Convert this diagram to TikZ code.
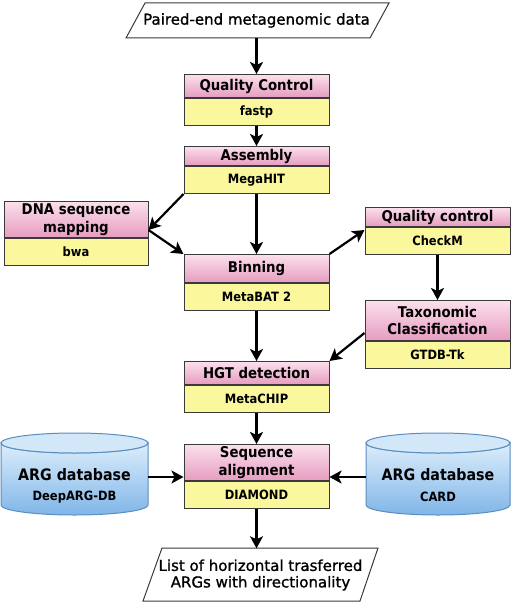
\documentclass[tikz,border=0pt]{standalone}
\usepackage{fontspec}
\usetikzlibrary{arrows.meta,calc}
\newfontfamily\dvc[FakeStretch=0.9]{DejaVu Sans}
\newfontfamily\dvr[FakeBold=1.2]{DejaVu Sans}
\definecolor{bord}{HTML}{3A3A3A}
\definecolor{pinkT}{HTML}{FBE0EC}
\definecolor{pinkB}{HTML}{E69CC0}
\definecolor{yel}{HTML}{FAF79C}
\definecolor{cylT}{HTML}{DCEEFB}
\definecolor{cylB}{HTML}{80B5E8}
\definecolor{cylTop}{HTML}{D2E7F8}
\definecolor{cylD}{HTML}{5A8DC0}
\begin{document}
\begin{tikzpicture}[x=1pt,y=-1pt,
  hdr/.style={draw=bord, line width=1pt, top color=pinkT, bottom color=pinkB,
    minimum width=145pt, inner sep=0pt, align=center, anchor=north,
    font=\dvc\bfseries\fontsize{14.8}{17.5}\selectfont},
  subbox/.style={draw=bord, line width=1pt, fill=yel, minimum width=145pt,
    minimum height=27pt, inner sep=0pt, anchor=north,
    font=\dvc\bfseries\fontsize{12.8}{15}\selectfont},
  arr/.style={line width=2.2pt, -{Stealth[length=12pt,width=13pt,inset=3pt]}},
  io/.style={draw=bord, line width=1pt, fill=white},
  iotext/.style={inner sep=0pt, align=center, font=\dvr\fontsize{15}{16.5}\selectfont},
  cyl/.style={draw=cylD, line width=1pt, top color=cylT, bottom color=cylB},
  dbtext/.style={inner sep=0pt, minimum width=147pt, minimum height=82pt}
]
\useasboundingbox (0,0) rectangle (512,604);

% input parallelogram
\draw[io] (145,3) -- (389,3) -- (370,38) -- (126,38) -- cycle;
\node[iotext, minimum height=35pt] (input) at (256.5,20.5) {Paired-end metagenomic data};

% main column
\node[hdr, minimum height=23pt] (qc) at (256.5,74) {Quality Control};
\node[subbox] (qcs) at (qc.south) {fastp};
\node[hdr, minimum height=19pt] (asm) at (256.5,146) {Assembly};
\node[subbox] (asms) at (asm.south) {MegaHIT};
\node[hdr, minimum height=28pt] (bin) at (256.5,254) {Binning};
\node[subbox] (bins) at (bin.south) {MetaBAT 2};
\node[hdr, minimum height=23pt] (hgt) at (256.5,361) {HGT detection};
\node[subbox] (hgts) at (hgt.south) {MetaCHIP};
\node[hdr, minimum height=36pt] (seq) at (256.5,444) {Sequence\\alignment};
\node[subbox] (seqs) at (seq.south) {DIAMOND};

% left
\node[hdr, minimum height=36pt, minimum width=144pt] (dna) at (76,201) {DNA sequence\\mapping};
\node[subbox, minimum width=144pt] (dnas) at (dna.south) {bwa};
\coordinate (dnaR) at ($(dna.south east)+(0,-8)$);

% right
\node[hdr, minimum height=19pt] (cm) at (437.5,207) {Quality control};
\node[subbox] (cms) at (cm.south) {CheckM};
\node[hdr, minimum height=40pt] (tax) at (437.5,300) {Taxonomic\\Classification};
\node[subbox] (taxs) at (tax.south) {GTDB-Tk};

% cylinders
\shade[cyl] (1,443) -- (1,505) arc[start angle=180, end angle=0, x radius=73.5, y radius=10]
  -- (148,443) arc[start angle=0, end angle=180, x radius=73.5, y radius=10] -- cycle;
\draw[draw=cylD, line width=1pt, fill=cylTop] (74.5,443) ellipse[x radius=73.5, y radius=10];
\node[dbtext] (db1) at (74.5,477) {};
\node[font=\dvc\bfseries\fontsize{15.8}{18}\selectfont, inner sep=0pt] (db1a) at (74.5,475) {ARG database};
\node[font=\dvc\bfseries\fontsize{12.8}{15}\selectfont, inner sep=0pt] (db1b) at (74.5,497) {DeepARG-DB};

\shade[cyl] (366,443) -- (366,505) arc[start angle=180, end angle=0, x radius=72, y radius=10]
  -- (510,443) arc[start angle=0, end angle=180, x radius=72, y radius=10] -- cycle;
\draw[draw=cylD, line width=1pt, fill=cylTop] (438,443) ellipse[x radius=72, y radius=10];
\node[dbtext, minimum width=144pt] (db2) at (438,477) {};
\node[font=\dvc\bfseries\fontsize{15.8}{18}\selectfont, inner sep=0pt] (db2a) at (438,475) {ARG database};
\node[font=\dvc\bfseries\fontsize{12.8}{15}\selectfont, inner sep=0pt] (db2b) at (438,497) {CARD};

% output parallelogram
\draw[io] (162,548) -- (378,548) -- (360,601) -- (143,601) -- cycle;
\node[iotext, minimum height=53pt] (output) at (260.5,575) {List of horizontal trasferred\\ARGs with directionality};

% connectors
\draw[arr] (input.south) -- (qc.north);
\draw[arr] (qcs.south) -- (asm.north);
\draw[arr] (asms.south) -- (bin.north);
\draw[arr] (asms.south west) -- (dnaR);
\draw[arr] (dnaR) -- (bin.north west);
\draw[arr] (bin.north east) -- ($(cms.north west)+(0,3)$);
\draw[arr] (cms.south) -- (tax.north);
\draw[arr] ($(tax.south west)+(0,-8)$) -- (hgt.north east);
\draw[arr] (bins.south) -- (hgt.north);
\draw[arr] (hgts.south) -- (seq.north);
\draw[arr] (db1.east) -- (db1.east -| seq.west);
\draw[arr] (db2.west) -- (db2.west -| seq.east);
\draw[arr] (seqs.south) -- (seqs.south |- output.north);
\end{tikzpicture}
\end{document}
